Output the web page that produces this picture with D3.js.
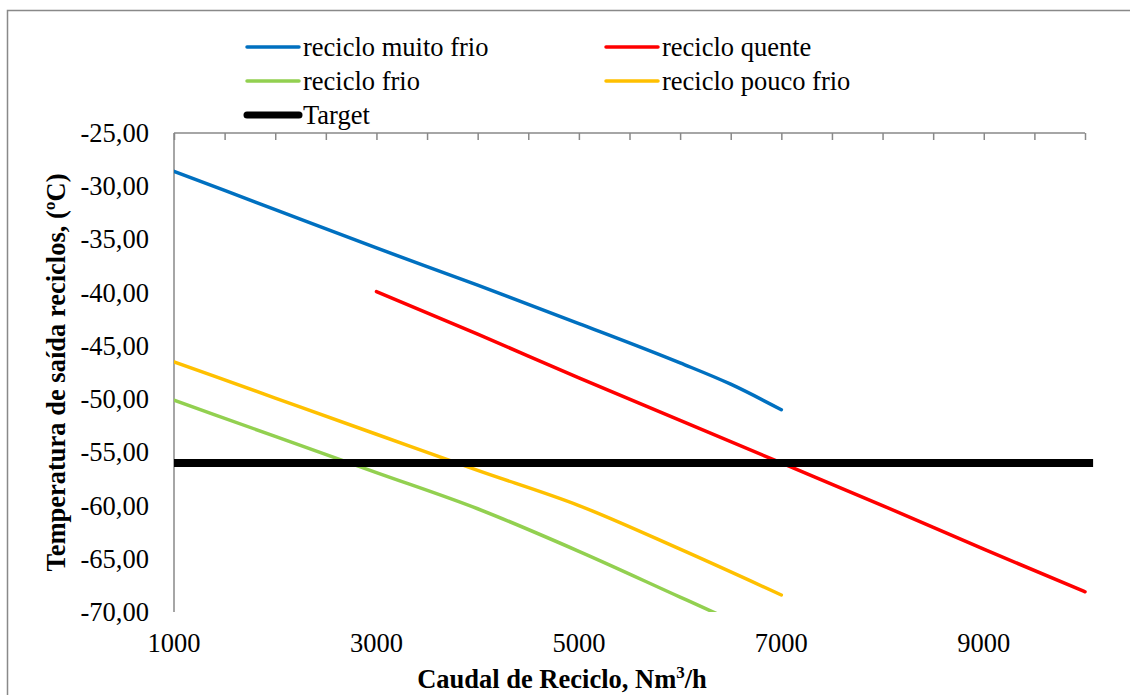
<!DOCTYPE html>
<html lang="pt">
<head>
<meta charset="UTF-8" />
<title>Temperatura de saída reciclos</title>
<script src="https://d3js.org/d3.v7.min.js"></script>
<style>
    body { margin: 0; background: #fff; }
    svg { display: block; font-family: "Liberation Serif", "Times New Roman", serif; }
    .tick-label { font-size: 26.5px; fill: #000; }
    .legend text { font-size: 26.5px; fill: #000; }
    .axis-title { font-size: 26.5px; font-weight: bold; fill: #000; }
</style>
</head>
<body>
<svg width="1130" height="695"></svg>
<script>
    // x values (Nm3/h)
    const xMuitoFrio = [1000, 2000, 3000, 4000, 5000, 6000, 6500, 7000];
    const yMuitoFrio = [-28.6, -32.2, -35.8, -39.3, -42.9, -46.6, -48.6, -51.0];

    const xQuente = [3000, 4000, 5000, 6000, 7000, 8000, 9000, 10000];
    const yQuente = [-39.9, -43.9, -48.0, -52.0, -56.0, -60.0, -64.1, -68.1];

    const xFrio = [1000, 2000, 3000, 4000, 5000, 6000, 7000];
    const yFrio = [-50.1, -53.5, -56.9, -60.3, -64.3, -68.6, -72.9];

    const xPoucoFrio = [1000, 2000, 3000, 4000, 5000, 6000, 7000];
    const yPoucoFrio = [-46.5, -49.9, -53.3, -56.7, -60.0, -64.1, -68.4];

    const xTarget = [1000, 10080];
    const yTarget = [-56, -56];

    const xTickLabels = [1000, 3000, 5000, 7000, 9000];
    const yTickLabels = [-25, -30, -35, -40, -45, -50, -55, -60, -65, -70];

    const series = [
        { name: "reciclo muito frio", xs: xMuitoFrio, ys: yMuitoFrio, color: "#0070C0", width: 3.5 },
        { name: "reciclo quente", xs: xQuente, ys: yQuente, color: "#FF0000", width: 3.5 },
        { name: "reciclo frio", xs: xFrio, ys: yFrio, color: "#92D050", width: 3.5 },
        { name: "reciclo pouco frio", xs: xPoucoFrio, ys: yPoucoFrio, color: "#FFC000", width: 3.5 },
        { name: "Target", xs: xTarget, ys: yTarget, color: "#000000", width: 8 }
    ];

    const svg = d3.select("svg");
    const plotLeft = 174, plotRight = 1085, plotTop = 133, plotBottom = 612;

    const x = d3.scaleLinear().domain([1000, 10000]).range([plotLeft, plotRight]);
    const y = d3.scaleLinear().domain([-70, -25]).range([plotBottom, plotTop]);

    // outer chart frame
    svg.append("rect")
        .attr("x", 7.5).attr("y", 10.5)
        .attr("width", 1140).attr("height", 700)
        .attr("fill", "none").attr("stroke", "#898989").attr("stroke-width", 1.5);

    svg.append("clipPath").attr("id", "plot-clip")
        .append("rect")
        .attr("x", plotLeft).attr("y", plotTop)
        .attr("width", plotRight - plotLeft + 12).attr("height", plotBottom - plotTop);

    // axes (Excel style: horizontal axis at top, ticks inside)
    const topAxis = d3.axisBottom(x)
        .tickValues(d3.range(1000, 10001, 500))
        .tickSize(7)
        .tickFormat("");
    const gx = svg.append("g").attr("transform", `translate(0,${plotTop})`).call(topAxis);
    gx.select(".domain").attr("stroke", "#898989").attr("stroke-width", 1.5)
        .attr("d", `M${plotLeft},0H${plotRight}`);
    gx.selectAll(".tick line").attr("stroke", "#898989").attr("stroke-width", 1.5);

    svg.append("line")
        .attr("x1", plotLeft).attr("x2", plotLeft)
        .attr("y1", plotTop).attr("y2", plotBottom)
        .attr("stroke", "#898989").attr("stroke-width", 1.5);

    // tick labels
    const fmt = d => d3.format(".2f")(d).replace(".", ",").replace("−", "-");
    svg.append("g").selectAll("text")
        .data(yTickLabels)
        .join("text")
        .attr("class", "tick-label")
        .attr("x", 149)
        .attr("y", d => y(d))
        .attr("dy", "0.34em")
        .attr("text-anchor", "end")
        .text(fmt);

    svg.append("g").selectAll("text")
        .data(xTickLabels)
        .join("text")
        .attr("class", "tick-label")
        .attr("x", d => x(d))
        .attr("y", 652)
        .attr("text-anchor", "middle")
        .text(d => d);

    // axis titles
    const xt = svg.append("text")
        .attr("class", "axis-title")
        .attr("x", 562).attr("y", 688)
        .attr("text-anchor", "middle");
    xt.append("tspan").text("Caudal de Reciclo, Nm");
    xt.append("tspan").attr("dy", -10).attr("font-size", "17px").text("3");
    xt.append("tspan").attr("dy", 10).text("/h");

    svg.append("text")
        .attr("class", "axis-title")
        .attr("transform", `translate(65,${(plotTop + plotBottom) / 2}) rotate(-90)`)
        .attr("text-anchor", "middle")
        .text("Temperatura de saída reciclos, (ºC)");

    // series
    const line = d3.line().x(d => x(d[0])).y(d => y(d[1])).curve(d3.curveMonotoneX);
    const plot = svg.append("g").attr("clip-path", "url(#plot-clip)");
    plot.selectAll("path")
        .data(series)
        .join("path")
        .attr("fill", "none")
        .attr("stroke", d => d.color)
        .attr("stroke-width", d => d.width)
        .attr("stroke-linejoin", "round")
        .attr("stroke-linecap", d => d.name === "Target" ? "butt" : "round")
        .attr("d", d => line(d3.zip(d.xs, d.ys)));

    // legend
    const legendPos = [[247, 47], [606, 47], [247, 81], [606, 81], [247, 115]];
    const legend = svg.append("g").attr("class", "legend")
        .selectAll("g")
        .data(series)
        .join("g")
        .attr("transform", (d, i) => `translate(${legendPos[i][0]},${legendPos[i][1]})`);
    legend.append("line")
        .attr("x1", 0).attr("x2", 52)
        .attr("stroke", d => d.color)
        .attr("stroke-width", d => d.name === "Target" ? 7 : 3.5)
        .attr("stroke-linecap", "round");
    legend.append("text")
        .attr("x", 56)
        .attr("dy", "0.34em")
        .text(d => d.name);
</script>
</body>
</html>
